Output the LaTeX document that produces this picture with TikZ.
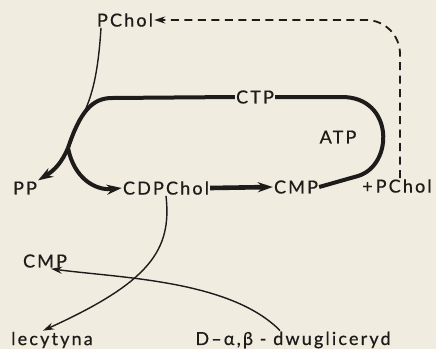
\documentclass[tikz,border=0pt]{standalone}
\usepackage{fontspec}
\newfontfamily\labfont[LetterSpace=12,FakeBold=0.6]{Lato}
\usetikzlibrary{arrows.meta}
\definecolor{paper}{RGB}{240,236,224}
\definecolor{ink}{RGB}{30,28,26}
\tikzset{
  lbl/.style={inner sep=1pt, font=\labfont\fontsize{18}{18}\selectfont, text=ink},
  thinline/.style={draw=ink, line width=1.4pt},
  thickline/.style={draw=ink, line width=4pt},
  dashline/.style={draw=ink, line width=1.8pt, dash pattern=on 8pt off 5.5pt},
  tipS/.style={-{Stealth[length=11pt,width=7pt]}},
  tipB/.style={-{Stealth[length=15pt,width=10pt]}},
}
\begin{document}
\begin{tikzpicture}[x=1pt,y=-1pt]
\fill[paper] (0,0) rectangle (436,349);
\useasboundingbox (0,0) rectangle (436,349);
\node[lbl] (pchol1) at (125,20) {PChol};
\node[lbl] (ctp) at (255,97) {CTP};
\node[lbl] (atp) at (338,137) {ATP};
\node[lbl] (pp) at (25,188) {PP};
\node[lbl] (cdp) at (166,188) {CDPChol};
\node[lbl] (cmp1) at (296,187) {CMP};
\node[lbl] (pchol2) at (397,186) {+\,PChol};
\node[lbl] (cmp2) at (45,261) {CMP};
\node[lbl] (lec) at (52,340) {lecytyna};
\node[lbl] (dag) at (293,340) {D–α,β - dwugliceryd};
\coordinate (fork) at (68,148);
% dashed return
\draw[dashline, tipS, rounded corners=34pt] ([xshift=3pt]pchol2.north) |- (pchol1.east);
% thin PChol line
\draw[thinline] ([xshift=-24pt]pchol1.south) .. controls (98,75) and (92,95) .. (84,113);
% thick cycle
\draw[thickline] (ctp.west) -- (112,98) .. controls (92,98) and (80,112) .. (fork);
\draw[thickline, tipB] (fork) .. controls (62,162) and (55,170) .. (pp.north east);
\draw[thickline, tipB] (fork) .. controls (74,178) and (95,191) .. (cdp.west);
\draw[thickline] (ctp.east) -- (342,97) .. controls (394,97) and (394,165) .. (358,176) .. controls (340,181) and (330,184) .. (cmp1.east);
\draw[thickline, line width=4.6pt, tipB] (cdp.east) -- (cmp1.west);
% bottom
\draw[thinline, tipS] (cdp.south) .. controls (172,250) and (150,282) .. ([xshift=-9pt]lec.north);
\draw[thinline, tipS] ([xshift=-13pt]dag.north) .. controls (230,280) and (120,278) .. ([xshift=6pt]cmp2.south);
\end{tikzpicture}
\end{document}
